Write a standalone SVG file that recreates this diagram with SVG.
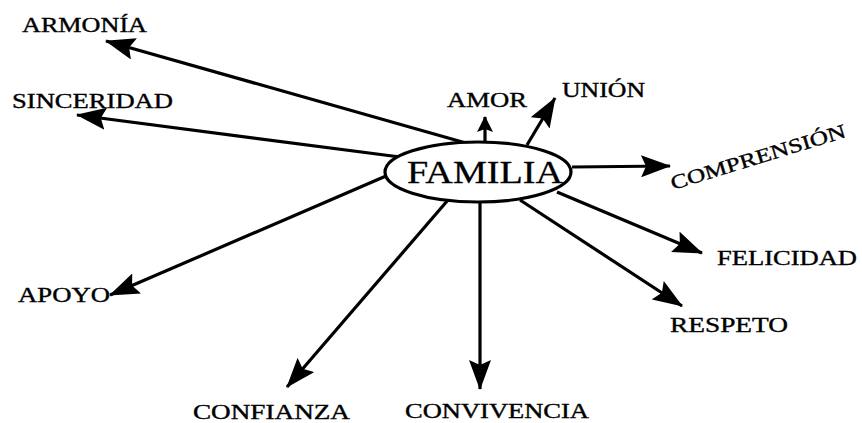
<svg xmlns="http://www.w3.org/2000/svg" width="862" height="423" viewBox="0 0 862 423">
<style>
.lbl{font-family:"Liberation Serif","Times New Roman",serif;font-size:20px;fill:#000;stroke:#000;stroke-width:0.35}
.edge{stroke:#000;stroke-width:3.2;fill:none;marker-end:url(#ah)}
.edge.small{marker-end:url(#ahs)}
</style>
<defs>
<marker id="ah" markerUnits="userSpaceOnUse" viewBox="0 0 30 22" markerWidth="30" markerHeight="22" refX="29" refY="11" orient="auto">
<path d="M0,0 L30,11 L0,22 L5,11 Z" fill="#000"/>
</marker>
<marker id="ahs" markerUnits="userSpaceOnUse" viewBox="0 0 16 16" markerWidth="16" markerHeight="16" refX="15" refY="8" orient="auto">
<path d="M0,0 L16,8 L0,16 L3,8 Z" fill="#000"/>
</marker>
</defs>
<rect width="862" height="423" fill="#fff"/>
<g id="connectors">
<path class="edge" d="M480,147 L106,41"/>
<path class="edge" d="M400,157 L77,115"/>
<path class="edge small" d="M485,147 L485,117"/>
<path class="edge" d="M527,145 L555,98"/>
<path class="edge" d="M572,167 L670,166"/>
<path class="edge" d="M557,192 L702,253"/>
<path class="edge" d="M520,200 L682,306"/>
<path class="edge" d="M480,202 L480,389"/>
<path class="edge" d="M448,200 L287,387"/>
<path class="edge" d="M386,176 L110,295"/>
</g>
<g id="familia">
<ellipse cx="478" cy="172" rx="93" ry="30" fill="#fff" stroke="#000" stroke-width="3.2"/>
<text x="407" y="183" font-family="Liberation Serif, serif" font-size="32" stroke="#000" stroke-width="0.3" textLength="156" lengthAdjust="spacingAndGlyphs">FAMILIA</text>
</g>
<g id="armonia"><text class="lbl" x="22" y="32" textLength="125" lengthAdjust="spacingAndGlyphs">ARMONÍA</text></g>
<g id="sinceridad"><text class="lbl" x="12" y="108" textLength="161" lengthAdjust="spacingAndGlyphs">SINCERIDAD</text></g>
<g id="amor"><text class="lbl" x="447" y="107" textLength="80" lengthAdjust="spacingAndGlyphs">AMOR</text></g>
<g id="union"><text class="lbl" x="562" y="97" textLength="83" lengthAdjust="spacingAndGlyphs">UNIÓN</text></g>
<g id="comprension"><text class="lbl" x="673" y="190" transform="rotate(-17 673 190)" textLength="182" lengthAdjust="spacingAndGlyphs">COMPRENSIÓN</text></g>
<g id="felicidad"><text class="lbl" x="717" y="265" textLength="140" lengthAdjust="spacingAndGlyphs">FELICIDAD</text></g>
<g id="respeto"><text class="lbl" x="670" y="332" textLength="118" lengthAdjust="spacingAndGlyphs">RESPETO</text></g>
<g id="apoyo"><text class="lbl" x="18" y="302" textLength="92" lengthAdjust="spacingAndGlyphs">APOYO</text></g>
<g id="confianza"><text class="lbl" x="193" y="419" textLength="157" lengthAdjust="spacingAndGlyphs">CONFIANZA</text></g>
<g id="convivencia"><text class="lbl" x="405" y="418" textLength="184" lengthAdjust="spacingAndGlyphs">CONVIVENCIA</text></g>
</svg>
